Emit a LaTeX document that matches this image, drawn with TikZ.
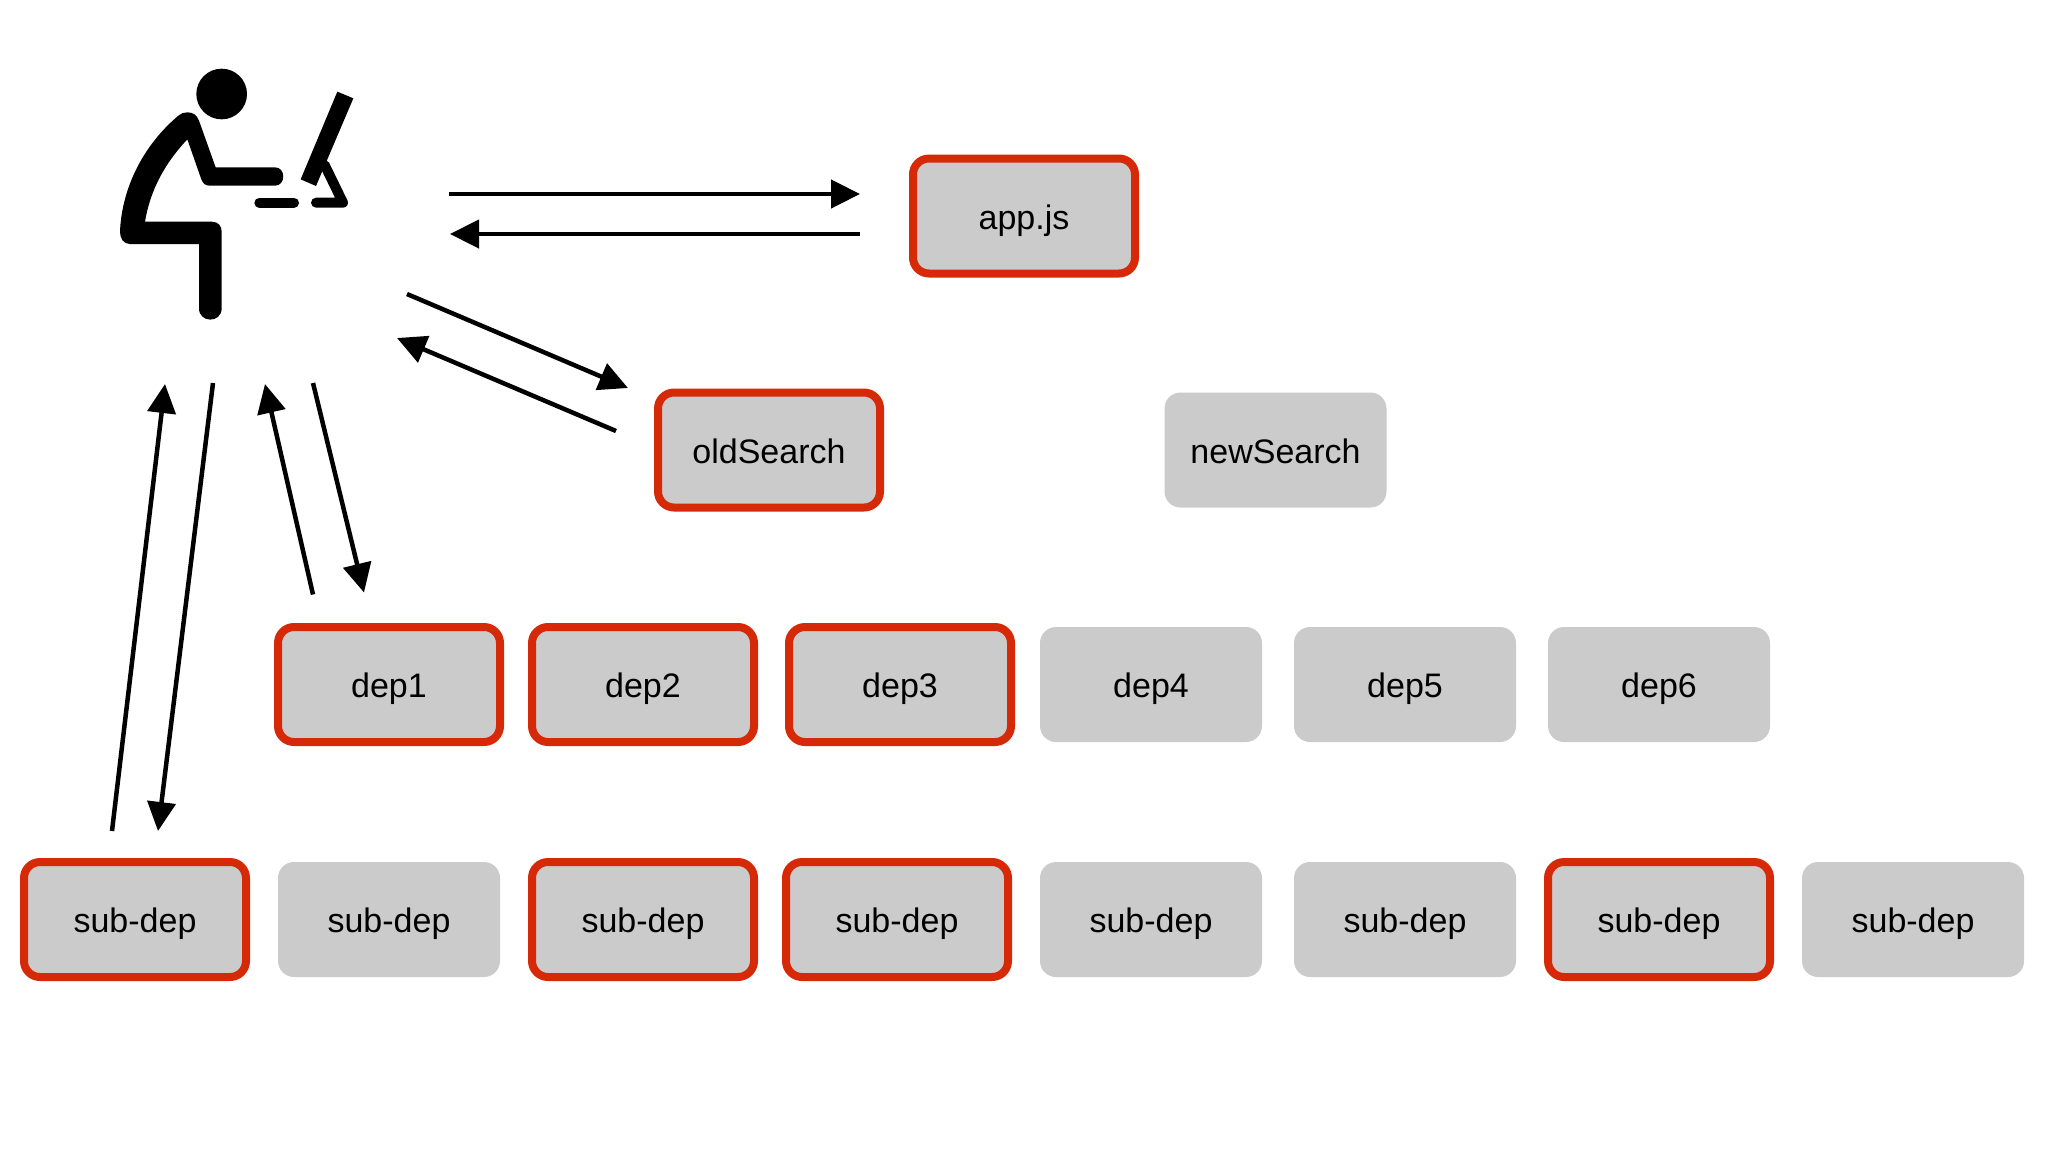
\documentclass[tikz,border=0pt]{standalone}
\usepackage{fontspec}
\setmainfont{Liberation Sans}
\usetikzlibrary{
        arrows.meta,
        positioning
    }
\definecolor{boxgrey}{RGB}{204,203,203}
\definecolor{boxred}{RGB}{214,41,8}
\tikzset{>={Triangle[length=14.5pt,width=14pt]},auto,node distance=16pt}
\tikzset{module/.style={fill=boxgrey,rounded corners=8pt,minimum width=111pt,minimum height=57.5pt,inner sep=0pt,outer sep=0pt,
        text height=13pt,text depth=0pt,font=\fontsize{17}{20}\selectfont}}
\tikzset{loaded/.style={module,draw=boxred,line width=4pt}}
\tikzset{link/.style={->,line width=2.25pt}}

\begin{document}
\begin{tikzpicture}[x=0.5pt,y=-0.5pt]
            \useasboundingbox (0,0) rectangle (2048,1152);
            % person at the desk
            \coordinate (user) at (220,190);
            \begin{scope}[shift={(100,50)},x=0.16667pt,y=-0.16667pt]
                \fill (365,132) circle (76);
                \fill (262,187) .. controls (280,187) and (290,195) .. (297,212) -- (347,352) -- (525,352)
                    .. controls (558,352) and (558,407) .. (525,407) -- (330,407)
                    .. controls (315,407) and (309,400) .. (304,388) -- (262,268)
                    .. controls (190,345) and (150,425) .. (135,515) -- (335,515)
                    .. controls (355,515) and (365,528) .. (365,545) -- (365,775)
                    .. controls (365,820) and (297,820) .. (297,775) -- (297,582) -- (90,582)
                    .. controls (70,582) and (60,565) .. (60,545)
                    .. controls (65,420) and (125,290) .. (235,197)
                    .. controls (243,190) and (252,187) .. (262,187) -- cycle;
                \draw[line width=5pt,line cap=round] (478,458) -- (582,458);
                \draw[line width=5pt,line cap=round,line join=round] (648,458) -- (729,458) -- (674,345);
                \fill (712,125) -- (760,145) -- (648,408) -- (602,388) -- cycle;
            \end{scope}
            \node[loaded] (appjs) at (1024,216) {app.js};
            \node[loaded] (oldsearch) at (769,450) {oldSearch};
            \node[module] (newsearch) at (1275.5,450) {newSearch};
            \node[loaded] (subdepa) at (135,919.5) {sub-dep};
            \node[module] (subdepb) [right=of subdepa] {sub-dep};
            \node[loaded] (subdepc) [right=of subdepb] {sub-dep};
            \node[loaded] (subdepd) [right=of subdepc] {sub-dep};
            \node[module] (subdepe) [right=of subdepd] {sub-dep};
            \node[module] (subdepf) [right=of subdepe] {sub-dep};
            \node[loaded] (subdepg) [right=of subdepf] {sub-dep};
            \node[module] (subdeph) [right=of subdepg] {sub-dep};
            \node[loaded] (depa) [above=60pt of subdepb] {dep1};
            \node[loaded] (depb) [right=of depa] {dep2};
            \node[loaded] (depc) [right=17.5pt of depb] {dep3};
            \node[module] (depd) [right=14.5pt of depc] {dep4};
            \node[module] (depe) [right=of depd] {dep5};
            \node[module] (depf) [right=of depe] {dep6};
            \path[link]
                ([shift={(229,4)}]user) edge ([shift={(-164,-22)}]appjs.center)
                ([shift={(-164,18)}]appjs.center) edge ([shift={(230,44)}]user)
                ([shift={(187,104)}]user) edge ([shift={(-141,-62)}]oldsearch.center)
                ([shift={(-153,-19)}]oldsearch.center) edge ([shift={(177,148)}]user)
                ([shift={(93,193)}]user) edge ([shift={(-25,-92)}]depa.center)
                ([shift={(-76,-90)}]depa.center) edge ([shift={(45,194)}]user)
                ([shift={(-7,193)}]user) edge ([shift={(23,-88.5)}]subdepa.center)
                ([shift={(-23,-88.5)}]subdepa.center) edge ([shift={(-55,194)}]user)
            ;
        \end{tikzpicture}
\end{document}
